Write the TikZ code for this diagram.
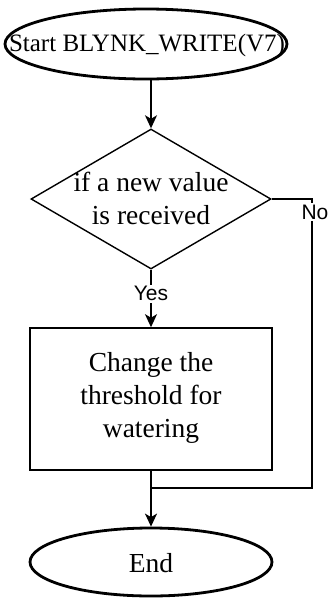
\documentclass[tikz,border=0pt]{standalone}
\usepackage{fontspec}
\setmainfont{Liberation Serif}
\newfontfamily\lsans{Liberation Sans}
\usetikzlibrary{shapes.geometric,arrows.meta}
\begin{document}
\begin{tikzpicture}[x=1pt,y=-1pt,
  term/.style={ellipse,draw,line width=2.8pt,inner sep=0pt},
  decbox/.style={diamond,draw,line width=1.4pt,inner sep=0pt},
  procbox/.style={rectangle,draw,line width=1.6pt,inner sep=0pt},
  txt/.style={font=\fontsize{27.5}{33}\selectfont,align=center,inner sep=0pt},
  lab/.style={font=\lsans\fontsize{21}{24}\selectfont,fill=white,inner sep=1.5pt},
  conn/.style={line width=1.6pt},
  arr/.style={conn,-{Stealth[length=13pt,width=12pt,inset=3.5pt]}}]
\useasboundingbox (0,0) rectangle (331,598);
\node[term,minimum width=282pt,minimum height=70pt] (start) at (146,44) {};
\node[txt,font=\fontsize{25}{30}\selectfont] at (147,45) {Start BLYNK\_WRITE(V7)};
\node[decbox,minimum width=240pt,minimum height=140pt] (dec) at (151,199) {};
\node[txt] (dect) at (151,198) {if a new value\\is received};
\node[procbox,minimum width=242pt,minimum height=142pt] (proc) at (151,399) {};
\node[txt] (proct) at (151,398) {Change the\\threshold for\\watering};
\node[term,minimum width=242pt,minimum height=68pt] (end) at (151,562) {};
\node[txt] at (151,563) {End};
\coordinate (c1) at (312,199);
\coordinate (c2) at (312,488);
\coordinate (j) at (151,488);
\draw[arr] (start.south -| dec.north) -- (dec.north);
\draw[arr] (dec.south) -- node[lab,pos=0.42] (yes) {Yes} (proc.north);
\draw[conn] (dec.east) -- (c1) -- (c2) -- (j);
\node[lab] (no) at (315,212) {No};
\draw[arr] (proc.south) -- (end.north);
\end{tikzpicture}
\end{document}
